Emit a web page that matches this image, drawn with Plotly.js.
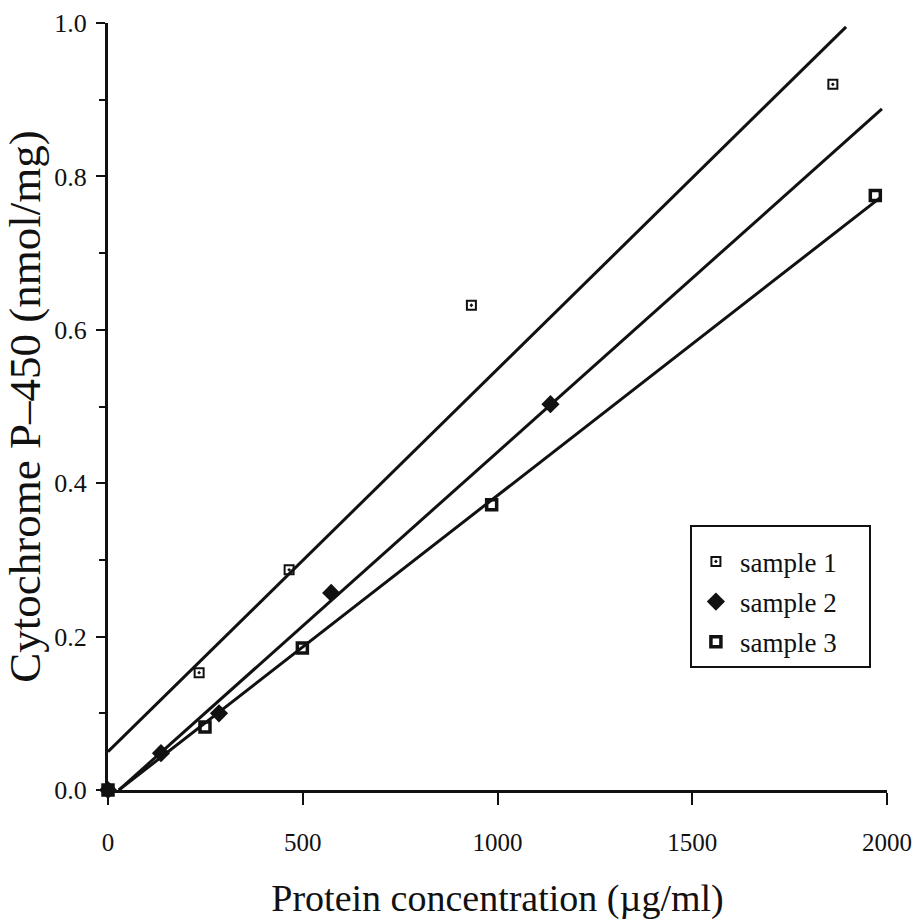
<!DOCTYPE html>
<html>
<head>
<meta charset="utf-8">
<script src="https://cdn.plot.ly/plotly-3.0.1.min.js"></script>
<style>html,body{margin:0;padding:0;background:#fff;}#chart{width:917px;height:921px;}</style>
</head>
<body>
<div id="chart"></div>
<script>
// Measured points
const sample1X = [0, 234, 465, 933, 1861];
const sample1Y = [0, 0.153, 0.287, 0.632, 0.920];
const sample2X = [0, 136, 285, 573, 1136];
const sample2Y = [0, 0.048, 0.100, 0.257, 0.503];
const sample3X = [0, 249, 499, 985, 1970];
const sample3Y = [0, 0.082, 0.185, 0.372, 0.775];

// Fitted regression lines (endpoints)
const fit1X = [0, 1895];
const fit1Y = [0.050, 0.995];
const fit2X = [28, 1987];
const fit2Y = [0, 0.888];
const fit3X = [28, 1982];
const fit3Y = [0, 0.772];

const seriesNames = ["sample 1", "sample 2", "sample 3"];
const xTickVals = [0, 500, 1000, 1500, 2000];
const yTickVals = [0, 0.2, 0.4, 0.6, 0.8, 1.0];
const yTickText = ["0.0", "0.2", "0.4", "0.6", "0.8", "1.0"];
const xTitle = "Protein concentration (µg/ml)";
const yTitle = "Cytochrome P–450 (nmol/mg)";

const serif = "Liberation Serif, Times New Roman, serif";
const lineStyle = {color: "#111", width: 3};
const pad = "\u00a0\u00a0\u00a0\u00a0";

const traces = [
  {x: fit1X, y: fit1Y, mode: "lines", line: lineStyle, showlegend: false, hoverinfo: "skip"},
  {x: fit2X, y: fit2Y, mode: "lines", line: lineStyle, showlegend: false, hoverinfo: "skip"},
  {x: fit3X, y: fit3Y, mode: "lines", line: lineStyle, showlegend: false, hoverinfo: "skip"},
  {x: sample1X, y: sample1Y, mode: "markers", name: seriesNames[0] + pad, legendgroup: "g1", cliponaxis: false,
   marker: {symbol: "square-open-dot", size: 9, color: "#111", line: {color: "#111", width: 2}}},
  {x: sample2X, y: sample2Y, mode: "markers", name: seriesNames[1] + pad, legendgroup: "g2", cliponaxis: false,
   marker: {symbol: "diamond", size: 14, color: "#111"}},
  {x: sample3X, y: sample3Y, mode: "markers", name: seriesNames[2] + pad, legendgroup: "g3", cliponaxis: false,
   marker: {symbol: "square-open", size: 10, color: "#111", line: {color: "#111", width: 3.5}}}
];

const layout = {
  width: 917, height: 921,
  margin: {l: 108, r: 30, t: 23, b: 131},
  paper_bgcolor: "#fff", plot_bgcolor: "#fff",
  font: {family: serif, color: "#111", size: 22},
  showlegend: true,
  legend: {
    x: 0.747, y: 0.3455, xanchor: "left", yanchor: "top",
    bgcolor: "#fff", bordercolor: "#111", borderwidth: 2,
    font: {family: serif, size: 27, color: "#111"},
    title: {text: " ", font: {size: 8}},
    tracegroupgap: 2, traceorder: "grouped", itemwidth: 38
  },
  xaxis: {
    range: [0, 2000], showgrid: false, zeroline: false,
    showline: true, linecolor: "#111", linewidth: 3,
    ticks: "outside", ticklen: 12, tickwidth: 2, tickcolor: "#111",
    tickvals: xTickVals, ticklabelstandoff: 16,
    tickfont: {family: serif, size: 25, color: "#111"},
    title: {text: xTitle, font: {family: serif, size: 38, color: "#111"}, standoff: 30},
    automargin: false
  },
  yaxis: {
    range: [0, 1.0], showgrid: false, zeroline: false,
    showline: true, linecolor: "#111", linewidth: 3,
    ticks: "outside", ticklen: 9, tickwidth: 2, tickcolor: "#111",
    tickvals: yTickVals, ticktext: yTickText, ticklabelstandoff: 4,
    tickfont: {family: serif, size: 26, color: "#111"},
    minor: {dtick: 0.1, ticks: "outside", ticklen: 6, tickwidth: 2, tickcolor: "#111"},
    title: {text: yTitle, font: {family: serif, size: 45, color: "#111"}, standoff: 3},
    automargin: false
  }
};

Plotly.newPlot("chart", traces, layout, {displayModeBar: false, staticPlot: true});
</script>
</body>
</html>
